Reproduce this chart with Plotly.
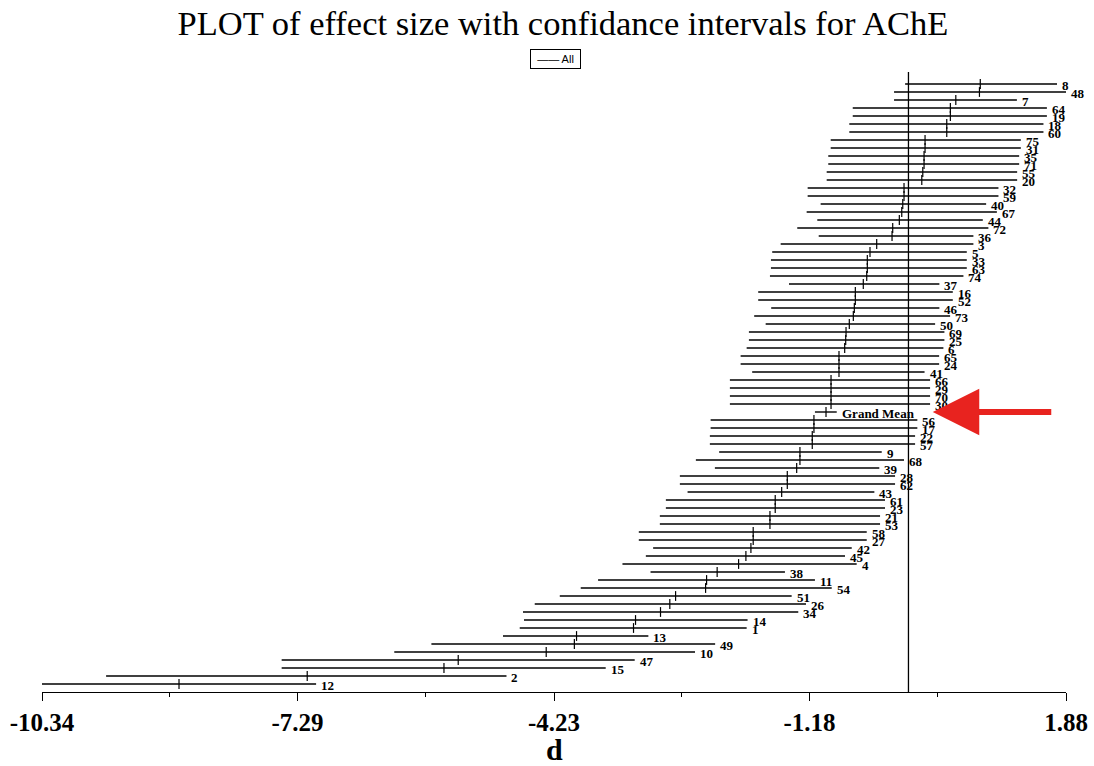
import plotly.graph_objects as go

labels = ["8","48","7","64","19","18","60","75","31","35","71","55","20","32","59","40","67","44","72","36",
          "3","5","33","63","74","37","16","52","46","73","50","69","25","6","65","24","41","66","29","70",
          "30","Grand Mean","56","17","22","57","9","68","39","28","62","43","61","23","21","53","58","27","42","45",
          "4","38","11","54","51","26","34","14","1","13","49","10","47","15","2","12"]

effect = [0.857, 0.847, 0.565, 0.500, 0.500, 0.457, 0.457, 0.198, 0.198, 0.186,
          0.186, 0.171, 0.159, -0.053, -0.053, -0.068, -0.080, -0.109, -0.188, -0.196,
          -0.379, -0.459, -0.491, -0.491, -0.498, -0.539, -0.634, -0.634, -0.646, -0.658,
          -0.706, -0.745, -0.749, -0.761, -0.829, -0.829, -0.829, -0.924, -0.924, -0.924,
          -0.924, -0.984, -1.128, -1.128, -1.148, -1.148, -1.295, -1.295, -1.334, -1.446,
          -1.446, -1.513, -1.590, -1.590, -1.653, -1.653, -1.853, -1.853, -1.880, -1.940,
          -2.027, -2.283, -2.409, -2.421, -2.779, -2.848, -2.959, -3.257, -3.281, -3.961,
          -3.987, -4.323, -5.373, -5.543, -7.175, -8.705]

lower = [-0.040, -0.172, -0.172, -0.665, -0.665, -0.706, -0.706, -0.928, -0.928, -0.957,
         -0.957, -0.976, -0.976, -1.203, -1.203, -1.048, -1.215, -1.088, -1.327, -1.071,
         -1.525, -1.626, -1.641, -1.641, -1.653, -1.426, -1.793, -1.793, -1.638, -1.841,
         -1.704, -1.904, -1.904, -1.931, -2.003, -2.003, -1.865, -2.131, -2.131, -2.131,
         -2.131, -1.116, -2.361, -2.361, -2.370, -2.370, -2.259, -2.537, -2.310, -2.728,
         -2.728, -2.636, -2.895, -2.895, -2.967, -2.967, -3.218, -3.218, -3.047, -3.134,
         -3.413, -3.078, -3.704, -3.911, -4.161, -4.460, -4.600, -4.588, -4.639, -4.839,
         -5.693, -6.136, -7.480, -7.480, -9.575, -10.340]

upper = [1.773, 1.880, 1.294, 1.652, 1.652, 1.611, 1.611, 1.341, 1.341, 1.321,
         1.321, 1.297, 1.297, 1.074, 1.074, 0.927, 1.055, 0.887, 0.954, 0.775,
         0.775, 0.696, 0.696, 0.696, 0.656, 0.369, 0.529, 0.529, 0.369, 0.497,
         0.318, 0.429, 0.429, 0.417, 0.366, 0.366, 0.192, 0.258, 0.258, 0.258,
         0.258, -0.856, 0.106, 0.106, 0.079, 0.079, -0.319, -0.053, -0.348, -0.160,
         -0.160, -0.407, -0.280, -0.280, -0.339, -0.339, -0.498, -0.498, -0.677, -0.757,
         -0.618, -1.474, -1.116, -0.916, -1.394, -1.223, -1.315, -1.920, -1.931, -3.104,
         -2.307, -2.547, -3.267, -3.613, -4.797, -7.069]

tick_vals = [-10.34, -7.29, -4.23, -1.18, 1.88]
tick_text = ["-10.34", "-7.29", "-4.23", "-1.18", "1.88"]
minor_vals = [(a + b) / 2 for a, b in zip(tick_vals[:-1], tick_vals[1:])]

rows = list(range(len(labels)))

lx, ly = [], []
for lo, hi, r in zip(lower, upper, rows):
    lx += [lo, hi, None]
    ly += [r, r, None]

SERIF = "Liberation Serif, Times New Roman, serif"

fig = go.Figure()
fig.add_trace(go.Scatter(x=lx, y=ly, mode="lines", line=dict(color="black", width=1.4),
                         hoverinfo="skip", showlegend=False, cliponaxis=False))
fig.add_trace(go.Scatter(x=effect, y=rows, mode="markers",
                         marker=dict(symbol="line-ns-open", size=7, color="black",
                                     line=dict(color="black", width=1.2)),
                         showlegend=False, cliponaxis=False))

for lab, hi, r in zip(labels, upper, rows):
    fig.add_annotation(x=hi, y=r, text="<b>%s</b>" % lab, showarrow=False, xanchor="left",
                       yanchor="middle", xshift=3, yshift=-1,
                       font=dict(family=SERIF, size=13, color="black"))

# zero line
fig.add_shape(type="line", x0=0, x1=0, xref="x", yref="paper", y0=0, y1=1,
              line=dict(color="black", width=1.3))

# red arrow pointing at the Grand Mean
gm = labels.index("Grand Mean")
fig.add_annotation(x=0.29, y=gm, ax=120, ay=0, text="", showarrow=True,
                   arrowhead=2, arrowsize=1.55, arrowwidth=6, arrowcolor="#e8231f")

# legend box
fig.add_annotation(x=0.501, y=1.021, xref="paper", yref="paper", text="—— All", showarrow=False,
                   font=dict(family="Liberation Sans, Arial, sans-serif", size=11, color="black"),
                   bordercolor="black", borderwidth=1, borderpad=2, width=45, height=14,
                   xanchor="center", yanchor="middle", bgcolor="white")

# axis title
fig.add_annotation(x=0.5, y=-0.092, xref="paper", yref="paper", text="<b>d</b>", showarrow=False,
                   font=dict(family=SERIF, size=30, color="black"), xanchor="center", yanchor="middle")

fig.update_layout(
    width=1094, height=766,
    margin=dict(l=42, r=28, t=72, b=74, autoexpand=False),
    paper_bgcolor="white", plot_bgcolor="white",
    title=dict(text="PLOT of effect size with confidance intervals for AChE",
               x=563 / 1094, xref="container", xanchor="center",
               y=1 - 23 / 766, yref="container", yanchor="middle",
               font=dict(family=SERIF, size=34.5, color="black")),
    xaxis=dict(range=[-10.34, 1.88], tickmode="array", tickvals=tick_vals,
               ticktext=["<b>%s</b>" % t for t in tick_text],
               tickfont=dict(family=SERIF, size=25, color="black"),
               showline=True, linecolor="black", linewidth=1.3, mirror=False,
               ticks="outside", ticklen=8, tickwidth=1.3, tickcolor="black",
               showgrid=False, zeroline=False, automargin=False,
               minor=dict(tickmode="array", tickvals=minor_vals, ticks="outside", ticklen=4,
                          tickwidth=1.3, tickcolor="black", showgrid=False)),
    yaxis=dict(range=[76, -1.5], visible=False, showgrid=False, zeroline=False, automargin=False),
    showlegend=False,
)

fig.write_html("out.html")
